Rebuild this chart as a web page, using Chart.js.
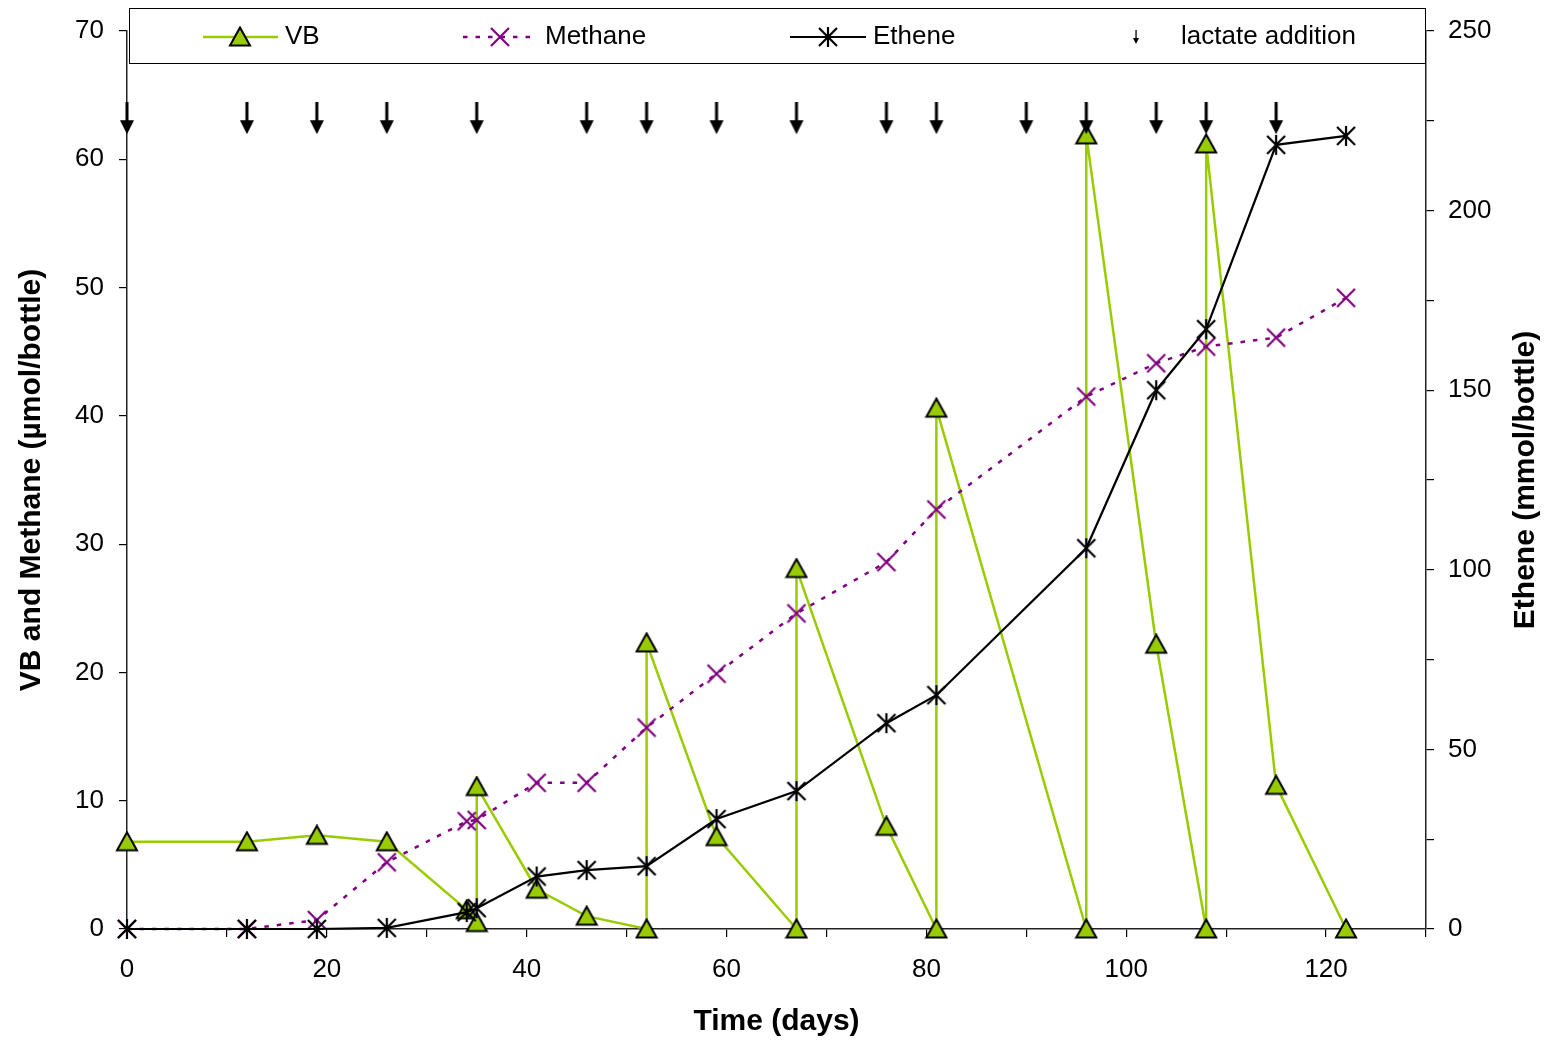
<!DOCTYPE html>
<html><head><meta charset="utf-8">
<script src="https://cdn.jsdelivr.net/npm/chart.js@4.4.1/dist/chart.umd.min.js"></script>
<style>html,body{margin:0;padding:0;background:#fff;overflow:hidden}</style>
</head><body>
<canvas id="c" width="1550" height="1042" style="display:block;width:1550px;height:1042px"></canvas>
<script>
// ---- data ----
const vbDays   = [0,12,19,26,34,35,35,41,46,52,52,59,67,67,76,81,81,96,96,103,108,108,115,122];
const vbValues = [6.8,6.8,7.3,6.8,1.5,0.5,11.1,3.1,1.0,0,22.3,7.2,0,28.1,8.0,0,40.6,0,61.9,22.2,0,61.2,11.2,0];
const gasDays  = [0,12,19,26,34,35,41,46,52,59,67,76,81,96,103,108,115,122];
const methaneValues = [0,0,0.7,5.2,8.4,8.5,11.4,11.4,15.7,19.9,24.6,28.6,32.7,41.5,44.1,45.4,46.1,49.2];
const etheneValues  = [0,0,0,0.3,4.7,5.8,14.6,16.4,17.5,30.6,38.4,57.3,65.1,106,150,167,218.3,220.8];
const lactateDays = [0,12,19,26,35,46,52,59,67,76,81,90,96,103,108,115];
const lactateLevel = 63.2;
const seriesLabels = ['VB','Methane','Ethene','lactate addition'];
const xTitle = 'Time (days)';
const yTitle = 'VB and Methane (µmol/bottle)';
const y2Title = 'Ethene (mmol/bottle)';

const FONT = '"Liberation Sans", Arial, Helvetica, sans-serif';
const GREEN = '#99CC00', PURPLE = '#800080';

function makeCanvas(w,h,draw){const c=document.createElement('canvas');c.width=w;c.height=h;draw(c.getContext('2d'));return c;}
const triImg = makeCanvas(24,22,g=>{g.beginPath();g.moveTo(12,1.5);g.lineTo(22,19.5);g.lineTo(2,19.5);g.closePath();g.fillStyle=GREEN;g.fill();g.lineWidth=2;g.strokeStyle='#000';g.stroke();});
const crossImg = makeCanvas(22,22,g=>{g.strokeStyle=PURPLE;g.lineWidth=2.2;g.beginPath();g.moveTo(2,2);g.lineTo(20,20);g.moveTo(20,2);g.lineTo(2,20);g.stroke();});
const starImg = makeCanvas(22,22,g=>{g.strokeStyle='#000';g.lineWidth=2.2;g.beginPath();g.moveTo(2,2);g.lineTo(20,20);g.moveTo(20,2);g.lineTo(2,20);g.moveTo(11,1);g.lineTo(11,21);g.stroke();});
const arrowImg = makeCanvas(16,32,g=>{g.fillStyle='#000';g.fillRect(6.5,0,3,19);g.beginPath();g.moveTo(1,18);g.lineTo(15,18);g.lineTo(8,32);g.closePath();g.fill();});
const smallArrow = makeCanvas(8,14,g=>{g.fillStyle='#000';g.fillRect(3.4,0,1.3,9);g.beginPath();g.moveTo(1,8);g.lineTo(7,8);g.lineTo(4,14);g.closePath();g.fill();});

const pts = (xs,ys)=>xs.map((x,i)=>({x:x,y:ys[i]}));

const legendPlugin = {
  id:'customLegend',
  afterDraw(chart){
    const ctx = chart.ctx;
    ctx.save();
    // legend box
    ctx.fillStyle='#fff'; ctx.fillRect(129,8,1297,55);
    ctx.strokeStyle='#000'; ctx.lineWidth=1; ctx.strokeRect(129.5,8.5,1296,55);
    const yc = 37;
    ctx.font = '26px '+FONT; ctx.textBaseline='middle'; ctx.textAlign='left'; ctx.fillStyle='#000';
    // VB
    ctx.strokeStyle=GREEN; ctx.lineWidth=2.5; ctx.beginPath(); ctx.moveTo(203,yc); ctx.lineTo(278,yc); ctx.stroke();
    ctx.drawImage(triImg,240-12,yc-11);
    ctx.fillText(seriesLabels[0],285,yc);
    // Methane
    ctx.strokeStyle=PURPLE; ctx.lineWidth=2.5; ctx.setLineDash([4.5,8]); ctx.beginPath(); ctx.moveTo(463,yc); ctx.lineTo(537,yc); ctx.stroke(); ctx.setLineDash([]);
    ctx.drawImage(crossImg,500-11,yc-11);
    ctx.fillText(seriesLabels[1],545,yc);
    // Ethene
    ctx.strokeStyle='#000'; ctx.lineWidth=2.2; ctx.beginPath(); ctx.moveTo(790,yc); ctx.lineTo(866,yc); ctx.stroke();
    ctx.drawImage(starImg,828-11,yc-11);
    ctx.fillText(seriesLabels[2],873,yc);
    // lactate
    ctx.drawImage(smallArrow,1136-4,yc-7);
    ctx.fillText(seriesLabels[3],1181,yc);
    // right axis title (reads bottom to top)
    const a = chart.chartArea;
    ctx.font = 'bold 30px '+FONT; ctx.textAlign='center';
    ctx.translate(1526,(a.top+a.bottom)/2); ctx.rotate(-Math.PI/2);
    ctx.fillText(y2Title,0,0);
    ctx.restore();
  }
};

const tickFont = {family:FONT,size:26};
const titleFont = {family:FONT,size:30,weight:'bold'};
const gridOpts = {drawOnChartArea:false,drawTicks:true,tickLength:8,color:'#000',lineWidth:1.2};
const borderOpts = {display:true,color:'#222',width:1.5};

new Chart(document.getElementById('c'),{
  type:'scatter',
  data:{datasets:[
    {label:seriesLabels[3],data:lactateDays.map(d=>({x:d,y:lactateLevel})),showLine:false,pointStyle:arrowImg,pointRadius:6,yAxisID:'y',order:0,clip:false},
    {label:seriesLabels[2],data:pts(gasDays,etheneValues),showLine:true,borderColor:'#000',borderWidth:2.2,pointStyle:starImg,pointRadius:6,yAxisID:'y2',order:1,clip:false},
    {label:seriesLabels[1],data:pts(gasDays,methaneValues),showLine:true,borderColor:PURPLE,borderWidth:2.5,borderDash:[4.5,8],pointStyle:crossImg,pointRadius:6,yAxisID:'y',order:2,clip:false},
    {label:seriesLabels[0],data:pts(vbDays,vbValues),showLine:true,borderColor:GREEN,borderWidth:2.5,pointStyle:triImg,pointRadius:6,yAxisID:'y',order:3,clip:false}
  ]},
  options:{
    responsive:false,animation:false,devicePixelRatio:1,
    layout:{padding:{top:31,left:0,right:0,bottom:0}},
    plugins:{legend:{display:false},tooltip:{enabled:false}},
    scales:{
      x:{type:'linear',position:'bottom',min:0,max:130,
        ticks:{stepSize:10,autoSkip:false,maxRotation:0,color:'#000',font:tickFont,padding:17,callback:v=>v%20===0?String(v):''},
        grid:gridOpts,border:borderOpts,
        title:{display:true,text:xTitle,color:'#000',font:titleFont,padding:{top:0,bottom:2}},
        afterFit:s=>{s.height=113;}},
      y:{type:'linear',position:'left',min:0,max:70,
        ticks:{stepSize:10,color:'#000',font:tickFont,padding:15},
        grid:gridOpts,border:borderOpts,
        title:{display:true,text:yTitle,color:'#000',font:titleFont,padding:{top:14,bottom:0}},
        afterFit:s=>{s.width=127;}},
      y2:{type:'linear',position:'right',min:0,max:250,
        ticks:{stepSize:25,color:'#000',font:tickFont,padding:14,callback:v=>v%50===0?String(v):''},
        grid:gridOpts,border:borderOpts,
        title:{display:false},
        afterFit:s=>{s.width=124;}}
    }
  },
  plugins:[legendPlugin]
});
</script>
</body></html>
